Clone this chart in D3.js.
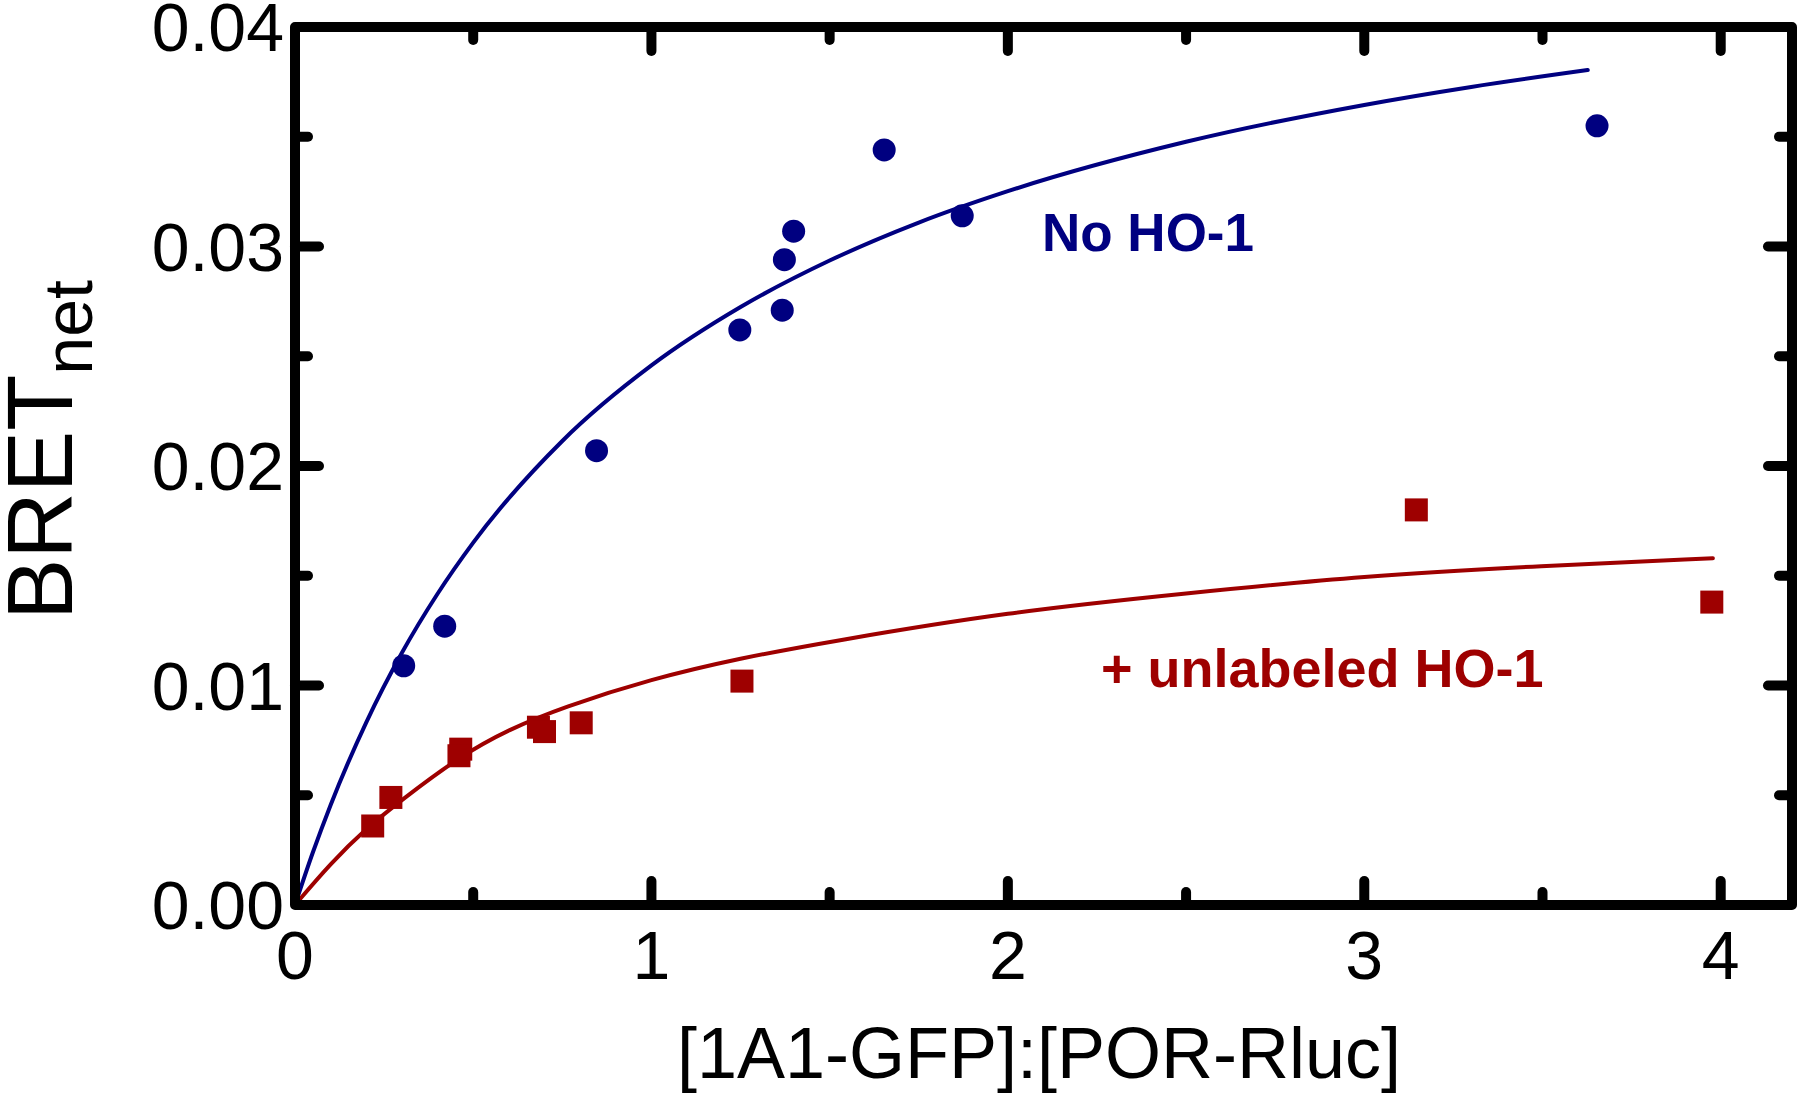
<!DOCTYPE html>
<html>
<head>
<meta charset="utf-8">
<script src="https://cdn.jsdelivr.net/npm/d3@7"></script>
<style>
  html, body { margin: 0; padding: 0; background: #fff; }
  svg { display: block; }
  text { font-family: "Liberation Sans", Arial, sans-serif; }
</style>
</head>
<body>
<svg id="chart" width="1800" height="1094"></svg>
<script>
// ---- Data ----
const noHO1X = [0.305, 0.42, 0.846, 1.248, 1.367, 1.373, 1.399, 1.653, 1.872, 3.653];
const noHO1Y = [0.0109, 0.0127, 0.0207, 0.0262, 0.0271, 0.0294, 0.0307, 0.0344, 0.0314, 0.0355];

const plusHO1X = [0.218, 0.269, 0.465, 0.46, 0.683, 0.70, 0.803, 1.254, 3.146, 3.975];
const plusHO1Y = [0.0036, 0.0049, 0.0071, 0.0068, 0.0081, 0.0079, 0.0083, 0.0102, 0.0180, 0.0138];

// Fitted curves
const fitNoX = [0, 0.05, 0.1, 0.2, 0.3, 0.4, 0.5, 0.75, 1.0, 1.25, 1.5, 1.75, 2.0, 2.5, 3.0, 3.3, 3.627];
const fitNoY = [0, 0.00239, 0.00456, 0.00832, 0.01149, 0.01418, 0.01651, 0.02114, 0.02458, 0.02724, 0.02936, 0.03109, 0.03252, 0.03477, 0.03645, 0.03727, 0.03804];

const fitPlusX = [0, 0.1, 0.2, 0.3, 0.465, 0.6, 0.75, 1.0, 1.25, 1.5, 2.0, 2.5, 3.0, 3.5, 3.978];
const fitPlusY = [0, 0.0019, 0.0035, 0.0048, 0.0068, 0.0080, 0.0090, 0.0103, 0.01125, 0.0120, 0.01335, 0.0142, 0.0150, 0.01545, 0.0158];

const xMajorTicks = [0, 1, 2, 3, 4];
const xMinorTicks = [0.5, 1.5, 2.5, 3.5];
const yMajorTicks = [0, 0.01, 0.02, 0.03, 0.04];
const yMinorTicks = [0.005, 0.015, 0.025, 0.035];
const xTickLabels = ["0", "1", "2", "3", "4"];
const yTickLabels = ["0.00", "0.01", "0.02", "0.03", "0.04"];

const seriesNames = ["No HO-1", "+ unlabeled HO-1"];
const xTitle = "[1A1-GFP]:[POR-Rluc]";

// ---- Layout ----
const BLUE = "#000080", RED = "#9e0000";
const L = 295, R = 1792, T = 27, B = 905;
const x = d3.scaleLinear().domain([0, 4.2]).range([L, R]);
const y = d3.scaleLinear().domain([0, 0.04]).range([B, T]);

const svg = d3.select("#chart");

// Fit curves
const lineBlue = d3.line().x(d => x(d[0])).y(d => y(d[1])).curve(d3.curveMonotoneX);
const lineRed = d3.line().x(d => x(d[0])).y(d => y(d[1])).curve(d3.curveBasis);
svg.append("path").datum(d3.zip(fitNoX, fitNoY))
  .attr("d", lineBlue).attr("fill", "none").attr("stroke", BLUE).attr("stroke-width", 4).attr("stroke-linecap", "round");
svg.append("path").datum(d3.zip(fitPlusX, fitPlusY))
  .attr("d", lineRed).attr("fill", "none").attr("stroke", RED).attr("stroke-width", 4).attr("stroke-linecap", "round");

// Points
svg.append("g").selectAll("circle").data(d3.zip(noHO1X, noHO1Y)).join("circle")
  .attr("cx", d => x(d[0])).attr("cy", d => y(d[1])).attr("r", 11.5).attr("fill", BLUE);
const S = 23;
svg.append("g").selectAll("rect").data(d3.zip(plusHO1X, plusHO1Y)).join("rect")
  .attr("x", d => x(d[0]) - S / 2).attr("y", d => y(d[1]) - S / 2)
  .attr("width", S).attr("height", S).attr("fill", RED);

// Frame
svg.append("rect").attr("x", L).attr("y", T).attr("width", R - L).attr("height", B - T)
  .attr("fill", "none").attr("stroke", "#000").attr("stroke-width", 10).attr("stroke-linejoin", "round");

// Ticks (inward, on all four sides)
const ticks = svg.append("g").attr("stroke", "#000").attr("stroke-width", 10).attr("stroke-linecap", "round");
const MAJ = 24, MIN = 13;
function xt(vals, len) {
  vals.forEach(v => {
    ticks.append("line").attr("x1", x(v)).attr("x2", x(v)).attr("y1", B).attr("y2", B - len);
    ticks.append("line").attr("x1", x(v)).attr("x2", x(v)).attr("y1", T).attr("y2", T + len);
  });
}
function yt(vals, len) {
  vals.forEach(v => {
    ticks.append("line").attr("y1", y(v)).attr("y2", y(v)).attr("x1", L).attr("x2", L + len);
    ticks.append("line").attr("y1", y(v)).attr("y2", y(v)).attr("x1", R).attr("x2", R - len);
  });
}
xt(xMajorTicks.slice(1), MAJ); xt(xMinorTicks, MIN);
yt(yMajorTicks.slice(1, 4), MAJ); yt(yMinorTicks, MIN);

// Tick labels
svg.append("g").selectAll("text").data(yMajorTicks).join("text")
  .attr("x", 284).attr("y", d => y(d) + 24).attr("text-anchor", "end")
  .attr("font-size", 68).attr("fill", "#000").text((d, i) => yTickLabels[i]);
svg.append("g").selectAll("text").data(xMajorTicks).join("text")
  .attr("x", d => x(d)).attr("y", 979).attr("text-anchor", "middle")
  .attr("font-size", 68).attr("fill", "#000").text((d, i) => xTickLabels[i]);

// Axis titles
svg.append("text").attr("x", 1039).attr("y", 1078).attr("text-anchor", "middle")
  .attr("font-size", 72).attr("fill", "#000").text(xTitle);
const yTitle = svg.append("text").attr("transform", "translate(72,620) rotate(-90)")
  .attr("fill", "#000");
yTitle.append("tspan").attr("font-size", 92).text("BRET");
yTitle.append("tspan").attr("font-size", 68).attr("dy", 20).text("net");

// Series labels
svg.append("text").attr("x", 1042).attr("y", 251).attr("font-size", 53).attr("font-weight", "bold")
  .attr("fill", BLUE).text(seriesNames[0]);
svg.append("text").attr("x", 1101).attr("y", 687).attr("font-size", 54).attr("font-weight", "bold")
  .attr("fill", RED).text(seriesNames[1]);
</script>
</body>
</html>
